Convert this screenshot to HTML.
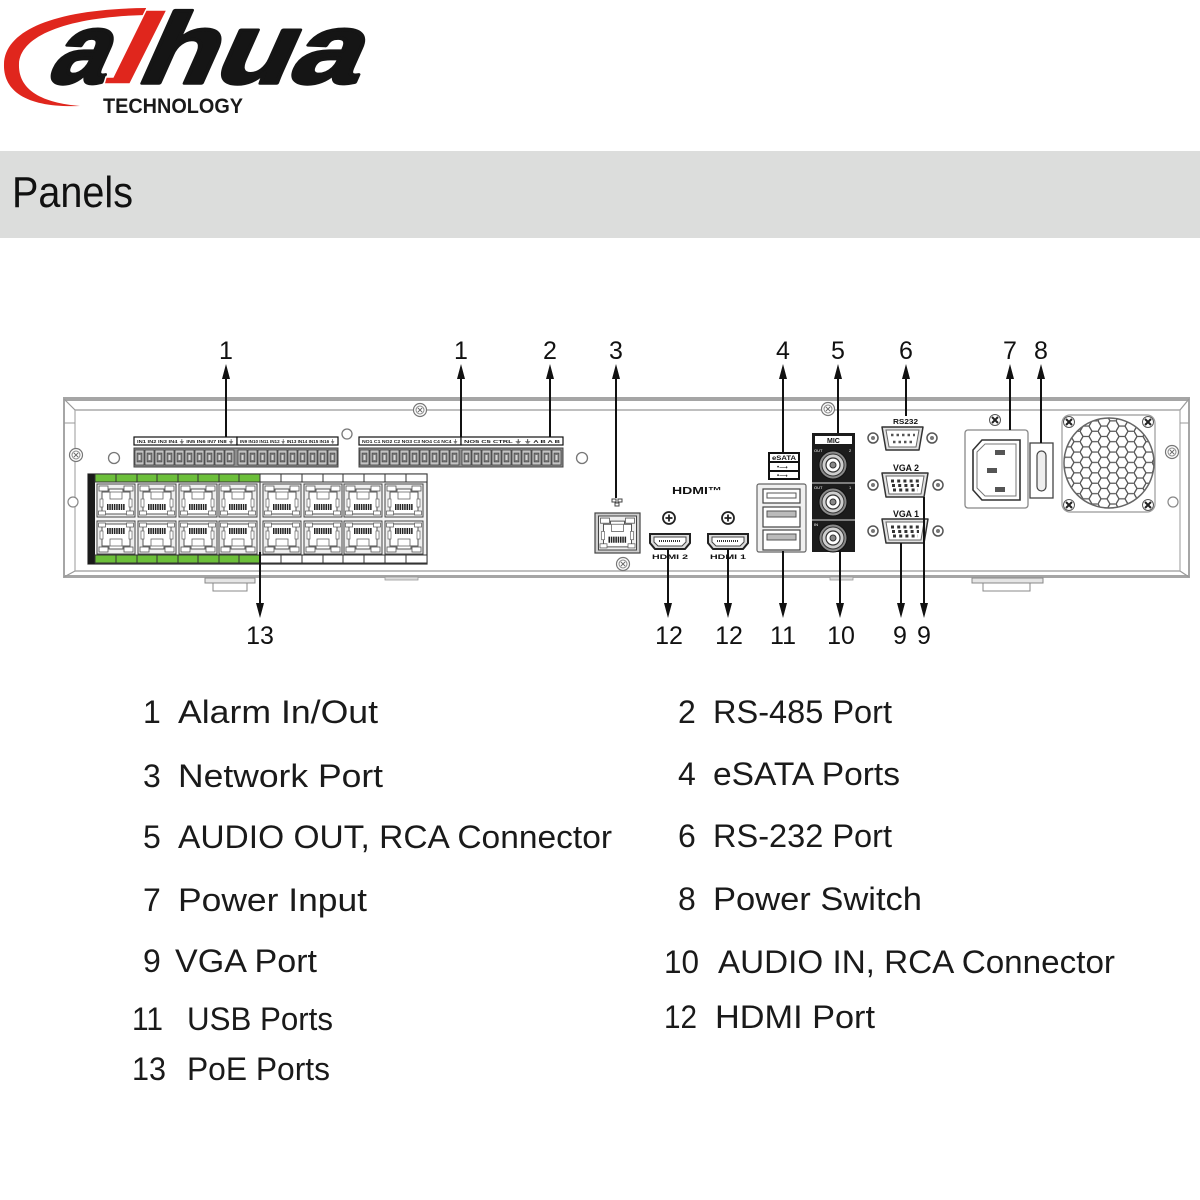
<!DOCTYPE html>
<html>
<head>
<meta charset="utf-8">
<style>
html,body{margin:0;padding:0;background:#fff;}
svg{display:block;}
</style>
</head>
<body>
<svg width="1200" height="1200" viewBox="0 0 1200 1200" xmlns="http://www.w3.org/2000/svg" font-family="Liberation Sans, Arial, sans-serif">
<defs>
  <pattern id="hex" patternUnits="userSpaceOnUse" width="18" height="10.392">
    <path d="M0,5.196 L3,0 L9,0 L12,5.196 L9,10.392 L3,10.392 Z M12,5.196 L18,5.196" fill="none" stroke="#555" stroke-width="1.3"/>
  </pattern>
  <g id="screw">
    <circle r="6.5" fill="#fff" stroke="#777" stroke-width="1.2"/>
    <circle r="4" fill="none" stroke="#888" stroke-width="1"/>
    <path d="M-2.2,-2.2 L2.2,2.2 M2.2,-2.2 L-2.2,2.2" stroke="#666" stroke-width="1"/>
  </g>
  <g id="xscrew">
    <circle r="5.5" fill="#fff" stroke="#555" stroke-width="1"/>
    <path d="M-3,-3 L3,3 M3,-3 L-3,3" stroke="#222" stroke-width="2"/>
  </g>
  <g id="rj">
    <rect x="0" y="0" width="38" height="33" fill="#efefef" stroke="#444" stroke-width="1"/>
    <rect x="2" y="2" width="9" height="5" fill="#fff" stroke="#555" stroke-width=".8"/>
    <rect x="27" y="2" width="9" height="5" fill="#fff" stroke="#555" stroke-width=".8"/>
    <path d="M5,8 H12 V5 H26 V8 H33 V30 H5 Z" fill="#fff" stroke="#555" stroke-width="1"/>
    <rect x="13" y="8" width="12" height="7" fill="#fff" stroke="#666" stroke-width=".8"/>
    <rect x="3" y="15" width="3" height="8" fill="#fff" stroke="#666" stroke-width=".7"/>
    <rect x="32" y="15" width="3" height="8" fill="#fff" stroke="#666" stroke-width=".7"/>
    <line x1="10" y1="23" x2="28" y2="23" stroke="#222" stroke-width="6" stroke-dasharray="1.5 .8"/>
    <rect x="1.5" y="27" width="7" height="4" fill="#fff" stroke="#555" stroke-width=".7"/>
    <rect x="29.5" y="27" width="7" height="4" fill="#fff" stroke="#555" stroke-width=".7"/>
  </g>
  <g id="term">
    <rect x="0" y="0" width="9" height="15" fill="#c4c4c4" stroke="#333" stroke-width=".7"/>
    <rect x="2" y="3" width="5" height="9" fill="#7a7a7a" stroke="#333" stroke-width=".5"/>
    <rect x="3.5" y="5" width="2" height="5" fill="#d8d8d8"/>
  </g>
  <g id="rca">
    <circle r="14" fill="#8a8a8a" stroke="#111" stroke-width="1"/>
    <circle r="11" fill="#cfcfcf" stroke="#333" stroke-width="1"/>
    <circle r="7" fill="#fff" stroke="#333" stroke-width="1.2"/>
    <circle r="3" fill="#888" stroke="#333" stroke-width="1"/>
  </g>
  <g id="vga">
    <path d="M0,0 H46 L42,24 H4 Z" fill="#e2e2e2" stroke="#333" stroke-width="1.5" stroke-linejoin="round"/>
    <path d="M4,3 H42 L39,21 H7 Z" fill="#fff" stroke="#666" stroke-width="1"/>
    <line x1="9" y1="8" x2="38" y2="8" stroke="#333" stroke-width="3" stroke-dasharray="3 3.2"/>
    <line x1="10" y1="12.5" x2="37" y2="12.5" stroke="#333" stroke-width="3" stroke-dasharray="3 3.2"/>
    <line x1="11" y1="17" x2="36" y2="17" stroke="#333" stroke-width="3" stroke-dasharray="3 3.2"/>
  </g>
  <g id="hdmi">
    <path d="M0,0 H40 V9 L35,15 H5 L0,9 Z" fill="#ddd" stroke="#222" stroke-width="2"/>
    <path d="M4,3 H36 V8 L32,12 H8 L4,8 Z" fill="#fff" stroke="#444" stroke-width="1"/>
    <line x1="9" y1="7" x2="31" y2="7" stroke="#333" stroke-width="2" stroke-dasharray="1 1"/>
  </g>
  <g id="plus">
    <circle r="6" fill="#fff" stroke="#222" stroke-width="1.8"/>
    <path d="M-3.5,0 H3.5 M0,-3.5 V3.5" stroke="#222" stroke-width="1.8"/>
  </g>
</defs>

<!-- ===== LOGO ===== -->
<path d="M80,106 C28,108 3,92 4,64 C5,30 55,9 146,8 L145,15 C66,17 20,36 19,64 C18,90 42,103 80,106 Z" fill="#e0261d"/>
<g transform="translate(0,85) skewX(-24) translate(0,-85)" stroke="#151515" stroke-width="3.5" stroke-linejoin="round">
  <text x="44" y="83" font-size="100" font-weight="bold" fill="#151515" textLength="56" lengthAdjust="spacingAndGlyphs">a</text>
  <text x="133" y="83" font-size="100" font-weight="bold" fill="#151515" textLength="220" lengthAdjust="spacingAndGlyphs">hua</text>
</g>
<polygon points="146,10 167,10 130,84 104,84 106,77 113,77" fill="#e0261d" stroke="#fff" stroke-width="1.5"/>
<text x="103" y="113" font-size="21" font-weight="bold" fill="#1a1a1a" textLength="140" lengthAdjust="spacingAndGlyphs">TECHNOLOGY</text>

<!-- ===== HEADER BAND ===== -->
<rect x="0" y="151" width="1200" height="87" fill="#dcdddc"/>
<text x="12" y="207" font-size="44" fill="#111" textLength="121" lengthAdjust="spacingAndGlyphs">Panels</text>

<!-- ===== CHASSIS ===== -->
<rect x="64" y="399" width="1125" height="178" fill="#fff" stroke="#888" stroke-width="1.5"/>
<rect x="63" y="397" width="1127" height="4" fill="#a5a5a5"/>
<line x1="75" y1="410" x2="1180" y2="410" stroke="#aaa" stroke-width="1.5"/>
<line x1="75" y1="571" x2="1180" y2="571" stroke="#aaa" stroke-width="1.5"/>
<rect x="63" y="575" width="1127" height="3" fill="#a5a5a5"/>
<line x1="75" y1="410" x2="75" y2="571" stroke="#aaa" stroke-width="1.2"/>
<line x1="1180" y1="410" x2="1180" y2="571" stroke="#aaa" stroke-width="1.2"/>
<line x1="64" y1="399" x2="75" y2="410" stroke="#999" stroke-width="1.2"/>
<line x1="64" y1="577" x2="75" y2="571" stroke="#999" stroke-width="1.2"/>
<line x1="1189" y1="399" x2="1180" y2="410" stroke="#999" stroke-width="1.2"/>
<line x1="1189" y1="577" x2="1180" y2="571" stroke="#999" stroke-width="1.2"/>
<line x1="64" y1="423" x2="75" y2="423" stroke="#999" stroke-width="1"/>
<line x1="1180" y1="423" x2="1189" y2="423" stroke="#999" stroke-width="1"/>

<!-- feet -->
<rect x="205" y="578" width="50" height="5" fill="#e5e5e5" stroke="#888" stroke-width="1"/>
<rect x="213" y="583" width="34" height="8" fill="#fff" stroke="#888" stroke-width="1"/>
<rect x="385" y="577" width="33" height="3" fill="#ddd" stroke="#999" stroke-width=".8"/>
<rect x="830" y="577" width="23" height="3" fill="#ddd" stroke="#999" stroke-width=".8"/>
<rect x="972" y="578" width="71" height="5" fill="#e5e5e5" stroke="#888" stroke-width="1"/>
<rect x="983" y="583" width="47" height="8" fill="#fff" stroke="#888" stroke-width="1"/>

<!-- side screws & holes -->
<use href="#screw" x="76" y="455"/>
<circle cx="73" cy="502" r="5" fill="#fff" stroke="#888" stroke-width="1.2"/>
<use href="#screw" x="1172" y="452"/>
<circle cx="1173" cy="502" r="5" fill="#fff" stroke="#888" stroke-width="1.2"/>
<use href="#screw" x="420" y="410"/>
<use href="#screw" x="828" y="409"/>
<circle cx="114" cy="458" r="5.5" fill="#fff" stroke="#777" stroke-width="1.3"/>
<circle cx="347" cy="434" r="5" fill="#fff" stroke="#777" stroke-width="1.3"/>
<circle cx="582" cy="458" r="5.5" fill="#fff" stroke="#777" stroke-width="1.3"/>

<!-- ===== TERMINAL BLOCKS ===== -->
<g font-size="4.5" font-weight="bold" fill="#222">
  <rect x="134" y="437" width="103" height="8" fill="#fff" stroke="#111" stroke-width="1.2"/>
  <text x="137" y="443" textLength="97" lengthAdjust="spacingAndGlyphs">IN1 IN2 IN3 IN4 ⏚ IN5 IN6 IN7 IN8 ⏚</text>
  <rect x="237" y="437" width="101" height="8" fill="#fff" stroke="#111" stroke-width="1.2"/>
  <text x="240" y="443" textLength="95" lengthAdjust="spacingAndGlyphs">IN9 IN10 IN11 IN12 ⏚ IN13 IN14 IN15 IN16 ⏚</text>
  <rect x="359" y="437" width="102" height="8" fill="#fff" stroke="#111" stroke-width="1.2"/>
  <text x="362" y="443" textLength="96" lengthAdjust="spacingAndGlyphs">NO1 C1 NO2 C2 NO3 C3 NO4 C4 NC4 ⏚</text>
  <rect x="461" y="437" width="102" height="8" fill="#fff" stroke="#111" stroke-width="1.2"/>
  <text x="464" y="443" textLength="96" lengthAdjust="spacingAndGlyphs">NO5 C5 CTRL ⏚ ⏚ A  B  A  B</text>
</g>
<rect x="134" y="448" width="204" height="19" fill="#8e8e8e" stroke="#444" stroke-width="1"/>
<rect x="359" y="448" width="204" height="19" fill="#8e8e8e" stroke="#444" stroke-width="1"/>
<g>
  <use href="#term" x="135" y="450"/><use href="#term" x="145" y="450"/><use href="#term" x="155" y="450"/><use href="#term" x="165" y="450"/><use href="#term" x="175" y="450"/><use href="#term" x="185" y="450"/><use href="#term" x="195" y="450"/><use href="#term" x="205" y="450"/><use href="#term" x="215" y="450"/><use href="#term" x="225" y="450"/>
  <use href="#term" x="238" y="450"/><use href="#term" x="248" y="450"/><use href="#term" x="258" y="450"/><use href="#term" x="268" y="450"/><use href="#term" x="278" y="450"/><use href="#term" x="288" y="450"/><use href="#term" x="298" y="450"/><use href="#term" x="308" y="450"/><use href="#term" x="318" y="450"/><use href="#term" x="328" y="450"/>
  <use href="#term" x="360" y="450"/><use href="#term" x="370" y="450"/><use href="#term" x="380" y="450"/><use href="#term" x="390" y="450"/><use href="#term" x="400" y="450"/><use href="#term" x="410" y="450"/><use href="#term" x="420" y="450"/><use href="#term" x="430" y="450"/><use href="#term" x="440" y="450"/><use href="#term" x="450" y="450"/>
  <use href="#term" x="462" y="450"/><use href="#term" x="472" y="450"/><use href="#term" x="482" y="450"/><use href="#term" x="492" y="450"/><use href="#term" x="502" y="450"/><use href="#term" x="512" y="450"/><use href="#term" x="522" y="450"/><use href="#term" x="532" y="450"/><use href="#term" x="542" y="450"/><use href="#term" x="552" y="450"/>
</g>

<!-- ===== PoE BLOCK ===== -->
<rect x="88" y="474" width="339" height="90" fill="#f4f4f4" stroke="#333" stroke-width="1.2"/>
<rect x="88" y="474" width="7" height="90" fill="#1a1a1a"/>
<rect x="95" y="474" width="165" height="8" fill="#6cbf3a" stroke="#333" stroke-width="1"/>
<rect x="260" y="474" width="167" height="8" fill="#fff" stroke="#333" stroke-width="1"/>
<path d="M116,474 V482 M137,474 V482 M157,474 V482 M178,474 V482 M198,474 V482 M219,474 V482 M239,474 V482 M281,474 V482 M302,474 V482 M323,474 V482 M343,474 V482 M364,474 V482 M385,474 V482 M406,474 V482" stroke="#333" stroke-width="1"/>
<rect x="95" y="555" width="165" height="8" fill="#6cbf3a" stroke="#333" stroke-width="1"/>
<rect x="260" y="555" width="167" height="8" fill="#fff" stroke="#333" stroke-width="1"/>
<path d="M116,555 V563 M137,555 V563 M157,555 V563 M178,555 V563 M198,555 V563 M219,555 V563 M239,555 V563 M281,555 V563 M302,555 V563 M323,555 V563 M343,555 V563 M364,555 V563 M385,555 V563 M406,555 V563" stroke="#333" stroke-width="1"/>
<line x1="260" y1="482" x2="260" y2="555" stroke="#555" stroke-width="1.2"/>
<use href="#rj" x="97" y="484"/><use href="#rj" x="138" y="484"/><use href="#rj" x="179" y="484"/><use href="#rj" x="219" y="484"/>
<use href="#rj" x="263" y="484"/><use href="#rj" x="304" y="484"/><use href="#rj" x="344" y="484"/><use href="#rj" x="385" y="484"/>
<use href="#rj" transform="translate(97,554) scale(1,-1)"/><use href="#rj" transform="translate(138,554) scale(1,-1)"/><use href="#rj" transform="translate(179,554) scale(1,-1)"/><use href="#rj" transform="translate(219,554) scale(1,-1)"/>
<use href="#rj" transform="translate(263,554) scale(1,-1)"/><use href="#rj" transform="translate(304,554) scale(1,-1)"/><use href="#rj" transform="translate(344,554) scale(1,-1)"/><use href="#rj" transform="translate(385,554) scale(1,-1)"/>

<!-- ===== NETWORK PORT ===== -->
<g stroke="#444" stroke-width="1" fill="#fff">
  <rect x="612" y="499" width="4" height="3"/><rect x="618" y="499" width="4" height="3"/><rect x="615" y="503" width="4" height="3"/>
</g>
<rect x="595" y="513" width="45" height="40" fill="#cfcfcf" stroke="#444" stroke-width="1.2"/>
<use href="#rj" transform="translate(598.5,516) scale(1,1.03)"/>
<use href="#screw" x="623" y="564"/>

<!-- ===== HDMI ===== -->
<text x="672" y="494" font-size="10" font-weight="bold" fill="#111" textLength="50" lengthAdjust="spacingAndGlyphs">HDMI™</text>
<use href="#plus" x="669" y="518"/>
<use href="#plus" x="728" y="518"/>
<use href="#hdmi" x="650" y="534"/>
<use href="#hdmi" x="708" y="534"/>
<text x="652" y="559" font-size="6" font-weight="bold" fill="#111" textLength="36" lengthAdjust="spacingAndGlyphs">HDMI 2</text>
<text x="710" y="559" font-size="6" font-weight="bold" fill="#111" textLength="36" lengthAdjust="spacingAndGlyphs">HDMI 1</text>

<!-- ===== eSATA / USB ===== -->
<rect x="768" y="452" width="32" height="28" fill="#111"/>
<rect x="770" y="454" width="28" height="7" fill="#fff"/>
<text x="772" y="460" font-size="6" font-weight="bold" fill="#111" textLength="24" lengthAdjust="spacingAndGlyphs">eSATA</text>
<rect x="770" y="463" width="28" height="7" fill="#fff"/>
<rect x="770" y="472" width="28" height="6" fill="#fff"/>
<text x="777" y="469" font-size="6" fill="#111">•⟶</text>
<text x="777" y="477.5" font-size="6" fill="#111">•⟶</text>
<rect x="757" y="484" width="49" height="68" rx="2" fill="#f0f0f0" stroke="#666" stroke-width="1.2"/>
<rect x="763" y="489" width="37" height="14" fill="#fff" stroke="#444" stroke-width="1.2"/>
<rect x="767" y="493" width="29" height="5" fill="#fff" stroke="#555" stroke-width="1"/>
<rect x="763" y="507" width="37" height="20" fill="#fff" stroke="#444" stroke-width="1.2"/>
<rect x="767" y="511" width="29" height="6" fill="#bbb" stroke="#555" stroke-width="1"/>
<rect x="763" y="530" width="37" height="20" fill="#fff" stroke="#444" stroke-width="1.2"/>
<rect x="767" y="534" width="29" height="6" fill="#bbb" stroke="#555" stroke-width="1"/>

<!-- ===== MIC / AUDIO ===== -->
<rect x="812" y="433" width="43" height="119" fill="#1c1c1c"/>
<rect x="815" y="436" width="37" height="8" fill="#fff"/>
<text x="827" y="443" font-size="7" font-weight="bold" fill="#111">MIC</text>
<line x1="812" y1="483" x2="855" y2="483" stroke="#ddd" stroke-width="1"/>
<line x1="812" y1="520" x2="855" y2="520" stroke="#ddd" stroke-width="1"/>
<text x="814" y="452" font-size="4" fill="#fff">OUT</text><text x="849" y="452" font-size="4" fill="#fff">2</text>
<text x="814" y="489" font-size="4" fill="#fff">OUT</text><text x="849" y="489" font-size="4" fill="#fff">1</text>
<text x="814" y="526" font-size="4" fill="#fff">IN</text>
<use href="#rca" x="833" y="465"/>
<use href="#rca" x="833" y="502"/>
<use href="#rca" x="833" y="538"/>

<!-- ===== RS232 / VGA ===== -->
<text x="893" y="424" font-size="7.5" font-weight="bold" fill="#111" textLength="25" lengthAdjust="spacingAndGlyphs">RS232</text>
<path d="M882,427 H923 L919,450 H886 Z" fill="#e2e2e2" stroke="#333" stroke-width="1.5" stroke-linejoin="round"/>
<path d="M886,430 H919 L916,447 H889 Z" fill="#fff" stroke="#666" stroke-width="1"/>
<line x1="891" y1="435" x2="915" y2="435" stroke="#555" stroke-width="2.5" stroke-dasharray="2.5 3"/>
<line x1="893" y1="442" x2="913" y2="442" stroke="#555" stroke-width="2.5" stroke-dasharray="2.5 3"/>
<circle cx="873" cy="438" r="5" fill="#fff" stroke="#555" stroke-width="1.5"/><circle cx="873" cy="438" r="2" fill="#777"/>
<circle cx="932" cy="438" r="5" fill="#fff" stroke="#555" stroke-width="1.5"/><circle cx="932" cy="438" r="2" fill="#777"/>

<text x="893" y="471" font-size="9" font-weight="bold" fill="#111" textLength="26" lengthAdjust="spacingAndGlyphs">VGA 2</text>
<use href="#vga" x="882" y="473"/>
<circle cx="873" cy="485" r="5" fill="#fff" stroke="#555" stroke-width="1.5"/><circle cx="873" cy="485" r="2" fill="#777"/>
<circle cx="938" cy="485" r="5" fill="#fff" stroke="#555" stroke-width="1.5"/><circle cx="938" cy="485" r="2" fill="#777"/>

<text x="893" y="517" font-size="9" font-weight="bold" fill="#111" textLength="26" lengthAdjust="spacingAndGlyphs">VGA 1</text>
<use href="#vga" x="882" y="519"/>
<circle cx="873" cy="531" r="5" fill="#fff" stroke="#555" stroke-width="1.5"/><circle cx="873" cy="531" r="2" fill="#777"/>
<circle cx="938" cy="531" r="5" fill="#fff" stroke="#555" stroke-width="1.5"/><circle cx="938" cy="531" r="2" fill="#777"/>

<!-- ===== POWER ===== -->
<use href="#xscrew" x="995" y="420"/>
<rect x="965" y="430" width="63" height="78" rx="3" fill="#fff" stroke="#888" stroke-width="1.3"/>
<path d="M982,440 H1020 V500 H982 L973,490 V450 Z" fill="#fff" stroke="#333" stroke-width="1.6"/>
<path d="M985,444 H1016 V496 H985 L977,488 V452 Z" fill="none" stroke="#777" stroke-width="1"/>
<rect x="995" y="450" width="10" height="5" fill="#555"/>
<rect x="987" y="468" width="10" height="5" fill="#555"/>
<rect x="995" y="487" width="10" height="5" fill="#555"/>
<rect x="1030" y="443" width="23" height="55" fill="#fff" stroke="#444" stroke-width="1.3"/>
<rect x="1037" y="451" width="9" height="40" rx="4.5" fill="#eee" stroke="#444" stroke-width="1.2"/>

<!-- fan -->
<rect x="1062" y="415" width="93" height="97" rx="8" fill="#fff" stroke="#999" stroke-width="1.2"/>
<circle cx="1109" cy="463" r="45" fill="url(#hex)" stroke="#666" stroke-width="1.5"/>
<use href="#xscrew" x="1069" y="422"/>
<use href="#xscrew" x="1148" y="422"/>
<use href="#xscrew" x="1069" y="505"/>
<use href="#xscrew" x="1148" y="505"/>

<!-- ===== TOP CALLOUTS ===== -->
<g stroke="#111" stroke-width="2">
  <line x1="226" y1="376" x2="226" y2="437"/>
  <line x1="461" y1="376" x2="461" y2="437"/>
  <line x1="550" y1="376" x2="550" y2="437"/>
  <line x1="616" y1="376" x2="616" y2="498"/>
  <line x1="783" y1="376" x2="783" y2="452"/>
  <line x1="838" y1="376" x2="838" y2="433"/>
  <line x1="906" y1="376" x2="906" y2="416"/>
  <line x1="1010" y1="376" x2="1010" y2="430"/>
  <line x1="1041" y1="376" x2="1041" y2="443"/>
</g>
<g fill="#111">
  <polygon points="226,364 222,379 230,379"/>
  <polygon points="461,364 457,379 465,379"/>
  <polygon points="550,364 546,379 554,379"/>
  <polygon points="616,364 612,379 620,379"/>
  <polygon points="783,364 779,379 787,379"/>
  <polygon points="838,364 834,379 842,379"/>
  <polygon points="906,364 902,379 910,379"/>
  <polygon points="1010,364 1006,379 1014,379"/>
  <polygon points="1041,364 1037,379 1045,379"/>
</g>
<g font-size="25" fill="#111" text-anchor="middle">
  <text x="226" y="359">1</text>
  <text x="461" y="359">1</text>
  <text x="550" y="359">2</text>
  <text x="616" y="359">3</text>
  <text x="783" y="359">4</text>
  <text x="838" y="359">5</text>
  <text x="906" y="359">6</text>
  <text x="1010" y="359">7</text>
  <text x="1041" y="359">8</text>
</g>

<!-- ===== BOTTOM CALLOUTS ===== -->
<g stroke="#111" stroke-width="2">
  <line x1="260" y1="552" x2="260" y2="606"/>
  <line x1="668" y1="549" x2="668" y2="606"/>
  <line x1="728" y1="549" x2="728" y2="606"/>
  <line x1="783" y1="551" x2="783" y2="606"/>
  <line x1="840" y1="551" x2="840" y2="606"/>
  <line x1="901" y1="543" x2="901" y2="606"/>
  <line x1="924" y1="497" x2="924" y2="606"/>
</g>
<g fill="#111">
  <polygon points="260,618 256,603 264,603"/>
  <polygon points="668,618 664,603 672,603"/>
  <polygon points="728,618 724,603 732,603"/>
  <polygon points="783,618 779,603 787,603"/>
  <polygon points="840,618 836,603 844,603"/>
  <polygon points="901,618 897,603 905,603"/>
  <polygon points="924,618 920,603 928,603"/>
</g>
<g font-size="25" fill="#111" text-anchor="middle">
  <text x="260" y="644">13</text>
  <text x="669" y="644">12</text>
  <text x="729" y="644">12</text>
  <text x="783" y="644">11</text>
  <text x="841" y="644">10</text>
  <text x="900" y="644">9</text>
  <text x="924" y="644">9</text>
</g>

<!-- ===== LEGEND ===== -->
<g font-size="32" fill="#1a1a1a">
  <text x="143" y="723">1</text>
  <text x="178" y="723" textLength="200" lengthAdjust="spacingAndGlyphs">Alarm In/Out</text>
  <text x="143" y="787">3</text>
  <text x="178" y="787" textLength="205" lengthAdjust="spacingAndGlyphs">Network Port</text>
  <text x="143" y="848">5</text>
  <text x="178" y="848" textLength="434" lengthAdjust="spacingAndGlyphs">AUDIO OUT, RCA Connector</text>
  <text x="143" y="911">7</text>
  <text x="178" y="911" textLength="189" lengthAdjust="spacingAndGlyphs">Power Input</text>
  <text x="143" y="972">9</text>
  <text x="175" y="972" textLength="142" lengthAdjust="spacingAndGlyphs">VGA Port</text>
  <text x="132" y="1030" textLength="31" lengthAdjust="spacingAndGlyphs">11</text>
  <text x="187" y="1030" textLength="146" lengthAdjust="spacingAndGlyphs">USB Ports</text>
  <text x="132" y="1080" textLength="34" lengthAdjust="spacingAndGlyphs">13</text>
  <text x="187" y="1080" textLength="143" lengthAdjust="spacingAndGlyphs">PoE Ports</text>

  <text x="678" y="723">2</text>
  <text x="713" y="723" textLength="179" lengthAdjust="spacingAndGlyphs">RS-485 Port</text>
  <text x="678" y="785">4</text>
  <text x="713" y="785" textLength="187" lengthAdjust="spacingAndGlyphs">eSATA Ports</text>
  <text x="678" y="847">6</text>
  <text x="713" y="847" textLength="179" lengthAdjust="spacingAndGlyphs">RS-232 Port</text>
  <text x="678" y="910">8</text>
  <text x="713" y="910" textLength="209" lengthAdjust="spacingAndGlyphs">Power Switch</text>
  <text x="664" y="973" textLength="35" lengthAdjust="spacingAndGlyphs">10</text>
  <text x="718" y="973" textLength="397" lengthAdjust="spacingAndGlyphs">AUDIO IN, RCA Connector</text>
  <text x="664" y="1028" textLength="33" lengthAdjust="spacingAndGlyphs">12</text>
  <text x="715" y="1028" textLength="160" lengthAdjust="spacingAndGlyphs">HDMI Port</text>
</g>
</svg>
</body>
</html>
